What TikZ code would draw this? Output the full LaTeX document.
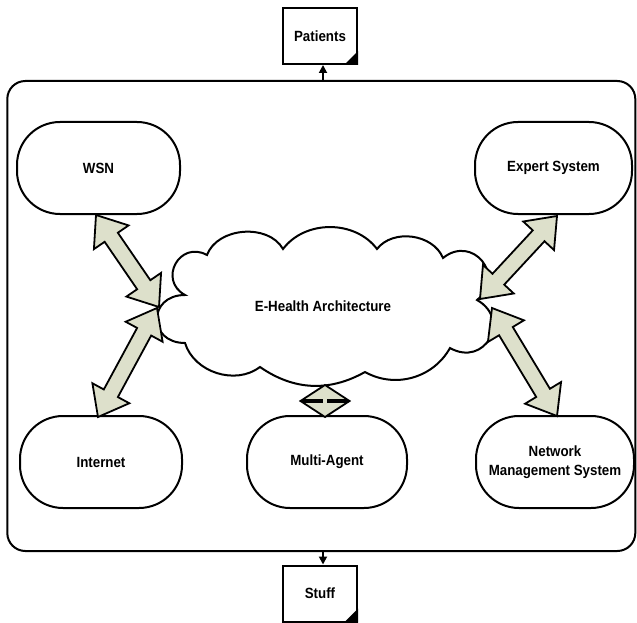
\documentclass[tikz,border=0pt]{standalone}
\usepackage{fontspec}
\setmainfont{Liberation Sans}[FakeStretch=0.9]
\usetikzlibrary{calc,arrows.meta}
\definecolor{arrowfill}{HTML}{DDE0CB}
\newcommand\dblarrow[5]{%
\filldraw[barrow] (#1)
 -- ($(#1)!#3!(#2)!#4!90:(#2)$)
 -- ($(#1)!#3!(#2)!#5!90:(#2)$)
 -- ($(#2)!#3!(#1)!#5!-90:(#1)$)
 -- ($(#2)!#3!(#1)!#4!-90:(#1)$)
 -- (#2)
 -- ($(#2)!#3!(#1)!#4!90:(#1)$)
 -- ($(#2)!#3!(#1)!#5!90:(#1)$)
 -- ($(#1)!#3!(#2)!#5!-90:(#2)$)
 -- ($(#1)!#3!(#2)!#4!-90:(#2)$)
 -- cycle;}
\begin{document}
\begin{tikzpicture}[x=1pt,y=-1pt,
  every node/.style={font=\fontsize{14.8}{19}\selectfont\bfseries, align=center},
  module/.style={draw, line width=2pt, rounded corners=43pt, minimum width=#1,
    minimum height=92pt, inner sep=0pt, fill=white},
  module/.default=160pt,
  docbox/.style={draw, line width=2pt, minimum width=74pt, minimum height=56pt, inner sep=0pt},
  flow/.style={line width=1.8pt, -{Triangle[length=8pt,width=8pt]}},
  cloudline/.style={draw, fill=white, line width=2pt, line join=miter},
  barrow/.style={fill=arrowfill, draw=black, line width=1.8pt, line join=miter}]
\useasboundingbox (0,0) rectangle (637,623);

% outer frame
\node[draw, line width=2pt, rounded corners=18pt, minimum width=628pt,
  minimum height=470pt, inner sep=0pt] (frame) at (321.3,316) {};

% external documents
\node[docbox] (patients) at (320,36) {Patients};
\fill (patients.south east) -- ++(-14,0) -- ++(14,-14) -- cycle;
\node[docbox] (stuff) at (320,593.5) {Stuff};
\fill (stuff.south east) -- ++(-14,0) -- ++(14,-14) -- cycle;

\coordinate (pin) at (323,81);
\draw[flow] (pin) -- (pin |- patients.south);
\coordinate (sout) at (323,551);
\draw[flow] (sout) -- (sout |- stuff.north);

% modules
\node[module=163pt] (wsn) at (98.5,168) {WSN};
\node[module=157pt] (expert) at (553.5,168) {Expert System};
\node[module=162pt] (internet) at (101,462) {Internet};
\node[module=160pt] (multi) at (327,462) {Multi-Agent};
\node[module=158pt] (nms) at (555,462) {Network\\Management System};

% cloud
\path[cloudline] (185,295)
  to[bend left=90, looseness=1.75] (207,255)
  to[bend left=65] (283,249)
  to[bend left=53] (377,249)
  to[bend left=60] (443,258)
  to[bend left=90, looseness=1.8] (477,300)
  to[bend left=90, looseness=1.85] (450,348)
  to[bend left=45] (365,372)
  to[bend left=32] (260,367)
  to[bend left=55] (185,343)
  to[bend left=90, looseness=2] cycle;
\node (cloud) at (323,306) {E-Health Architecture};

% connector end points
\coordinate (w1) at (96,215);
\coordinate (w2) at (159,307);
\coordinate (i1) at (157,308);
\coordinate (i2) at (98,417);
\coordinate (e1) at (557,216);
\coordinate (e2) at (480,299);
\coordinate (n1) at (492,308);
\coordinate (n2) at (557,416);
\coordinate (m1) at (325,385);
\coordinate (m2) at (325,417);

\dblarrow{w1}{w2}{27pt}{21pt}{8pt}
\dblarrow{i1}{i2}{27pt}{21pt}{8pt}
\dblarrow{e1}{e2}{27pt}{21pt}{8pt}
\dblarrow{n1}{n2}{27pt}{21pt}{8pt}
\dblarrow{m1}{m2}{15pt}{23pt}{3pt}
\end{tikzpicture}
\end{document}
